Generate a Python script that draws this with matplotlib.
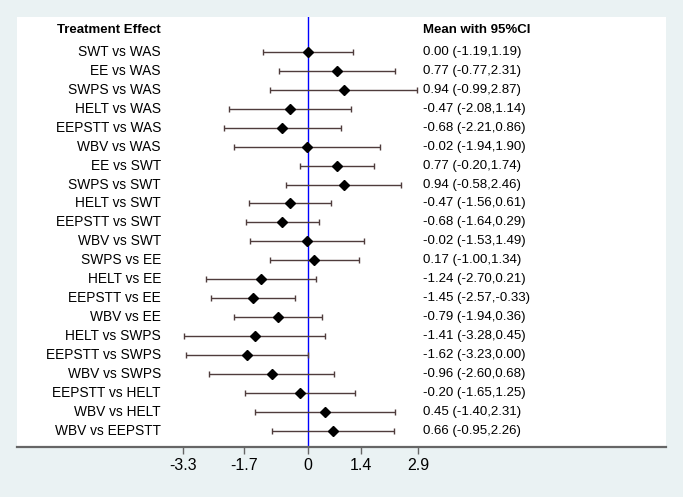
import numpy as np
import matplotlib
matplotlib.use('Agg')
import matplotlib.pyplot as plt
from matplotlib.patches import Rectangle

plt.rcParams['font.family'] = ['Liberation Sans', 'DejaVu Sans']

# comparisons, top to bottom
labels = ['SWT vs WAS', 'EE vs WAS', 'SWPS vs WAS', 'HELT vs WAS', 'EEPSTT vs WAS',
          'WBV vs WAS', 'EE vs SWT', 'SWPS vs SWT', 'HELT vs SWT', 'EEPSTT vs SWT',
          'WBV vs SWT', 'SWPS vs EE', 'HELT vs EE', 'EEPSTT vs EE', 'WBV vs EE',
          'HELT vs SWPS', 'EEPSTT vs SWPS', 'WBV vs SWPS', 'EEPSTT vs HELT',
          'WBV vs HELT', 'WBV vs EEPSTT']
means = [0.00, 0.77, 0.94, -0.47, -0.68, -0.02, 0.77, 0.94, -0.47, -0.68,
         -0.02, 0.17, -1.24, -1.45, -0.79, -1.41, -1.62, -0.96, -0.20, 0.45, 0.66]
lower = [-1.19, -0.77, -0.99, -2.08, -2.21, -1.94, -0.20, -0.58, -1.56, -1.64,
         -1.53, -1.00, -2.70, -2.57, -1.94, -3.28, -3.23, -2.60, -1.65, -1.40, -0.95]
upper = [1.19, 2.31, 2.87, 1.14, 0.86, 1.90, 1.74, 2.46, 0.61, 0.29,
         1.49, 1.34, 0.21, -0.33, 0.36, 0.45, 0.00, 0.68, 1.25, 2.31, 2.26]
xticks = [-3.3, -1.7, 0, 1.4, 2.9]

means = np.array(means)
lower = np.array(lower)
upper = np.array(upper)
ypos = np.arange(1, len(labels) + 1)

fig = plt.figure(figsize=(6.85, 4.99), dpi=100)
fig.patch.set_facecolor('white')
# light bluish-gray graph region
fig.patches.append(Rectangle((0, 2 / 499), 683 / 685, 497 / 499, transform=fig.transFigure,
                             facecolor='#eaf2f3', edgecolor='none', zorder=-10))

ax = fig.add_axes([17 / 685, 52 / 499, 649 / 685, 430 / 499])
ax.set_facecolor('white')

ax.errorbar(means, ypos, xerr=[means - lower, upper - means], fmt='none',
            ecolor='#4f3c3c', elinewidth=1.0, capsize=2.5, capthick=1.0, zorder=2)
ax.plot(means, ypos, 'D', color='black', markersize=5.6, zorder=3)
ax.axvline(0, color='#0000ff', lw=1.0, zorder=1)

lab_x = -3.88
val_x = 3.03
ax.text(lab_x, -0.15, 'Treatment Effect', ha='right', va='center', fontsize=9.5, fontweight='bold')
ax.text(val_x, -0.15, 'Mean with 95%CI', ha='left', va='center', fontsize=9.5, fontweight='bold')
for y, lab, m, lo, hi in zip(ypos, labels, means, lower, upper):
    ax.text(lab_x, y, lab, ha='right', va='center', fontsize=9.9)
    ax.text(val_x, y, f'{m:.2f} ({lo:.2f},{hi:.2f})', ha='left', va='center', fontsize=9.5)

ax.set_xlim(-7.68, 9.45)
ax.set_ylim(21.85, -0.84)
ax.set_yticks([])
ax.set_xticks(xticks)
ax.set_xticklabels(['-3.3', '-1.7', '0', '1.4', '2.9'], fontsize=11.5)
ax.tick_params(axis='x', direction='out', length=5, width=1, color='#666666', pad=3)
for side in ['left', 'right', 'top']:
    ax.spines[side].set_visible(False)
ax.spines['bottom'].set_color('#666666')
ax.spines['bottom'].set_linewidth(1.6)

fig.savefig('out.png', dpi=100)
